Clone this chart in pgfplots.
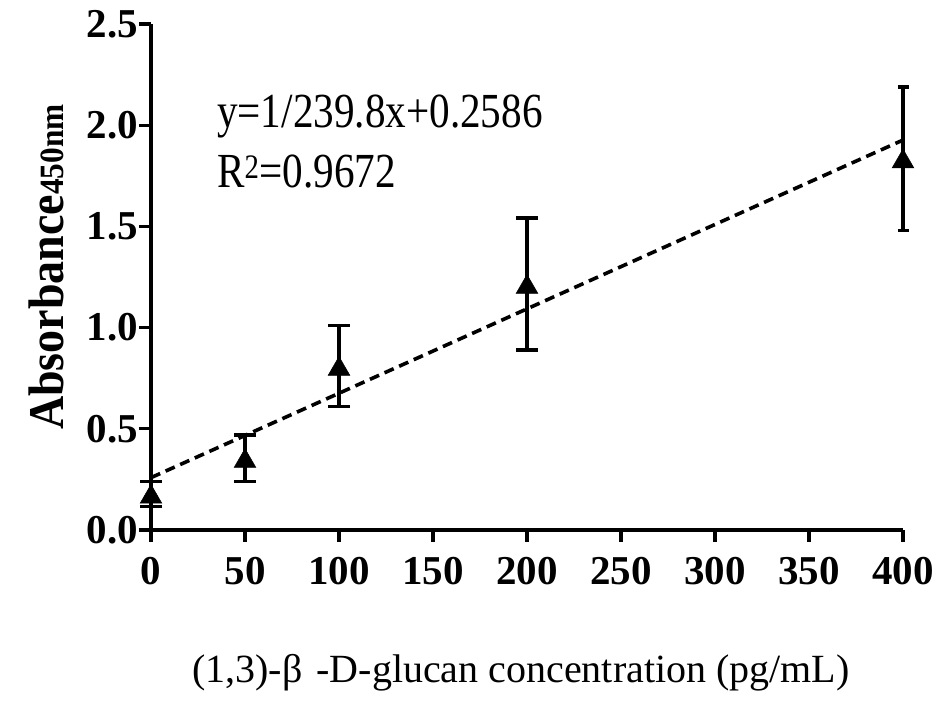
\documentclass[border=0pt]{standalone}
\usepackage{fontspec}
\setmainfont{Liberation Serif}
\usepackage{graphicx}
\usepackage{pgfplots}
\pgfplotsset{compat=1.18}
\begin{document}
\begin{tikzpicture}[x=1pt,y=1pt]
\useasboundingbox (0,0) rectangle (950,711);
\begin{axis}[
  at={(151pt,181pt)}, anchor=south west,
  scale only axis, width=752pt, height=506pt,
  xmin=0, xmax=400, ymin=0, ymax=2.5,
  axis x line*=bottom, axis y line*=left,
  axis line style={line width=3.6pt, -},
  xtick={0,50,...,400}, ytick={0,0.5,1,1.5,2,2.5},
  tick align=outside, major tick length=12pt,
  tick style={line width=3.2pt, black},
  /pgf/number format/assume math mode=true,
  xticklabel style={font=\fontsize{41}{41}\selectfont\bfseries, inner sep=1pt, yshift=-14pt},
  yticklabel style={font=\fontsize{41}{41}\selectfont\bfseries, inner sep=1pt},
  yticklabel={\pgfmathprintnumber[fixed,fixed zerofill,precision=1]{\tick}},
  clip=false,
]
\addplot[black, line width=3.6pt, dash pattern=on 10pt off 6pt] coordinates {(0,0.2586) (400,1.9266)};
\addplot[only marks, black, mark=triangle*, mark size=12.5pt, mark options={line width=0.5pt, yshift=-3pt},
  error bars/.cd, y dir=both, y explicit,
  error bar style={line width=3.6pt, black},
  error mark options={rotate=90, mark size=11pt, line width=3.6pt, black}]
  table[x=x, y=y, y error=e] {
x y e
0 0.178 0.062
50 0.355 0.115
100 0.81 0.20
200 1.215 0.325
};
\addplot[only marks, black, mark=triangle*, mark size=12.5pt, mark options={line width=0.5pt, yshift=-3pt},
  error bars/.cd, y dir=both, y explicit,
  error bar style={line width=3.6pt, black},
  error mark options={xshift=-5.5pt, rotate=90, mark size=5.5pt, line width=3.6pt, black}]
  table[x=x, y=y, y error=e] {
x y e
400 1.835 0.355
};
\end{axis}
\node[anchor=base west, inner sep=0pt] at (217,583) {\scalebox{0.84}[1]{\fontsize{49}{49}\selectfont y=1/239.8x+0.2586}};
\node[anchor=base west, inner sep=0pt] at (217,523) {\scalebox{0.84}[1]{\fontsize{49}{49}\selectfont R\textsuperscript{2}=0.9672}};
\node[anchor=base west, inner sep=0pt] at (192,28) {\fontsize{40}{40}\selectfont (1,3)-β\hspace{0.35em}-D-glucan concentration (pg/mL)};
\node[anchor=base west, rotate=90, inner sep=0pt] at (63,281) {\scalebox{0.92}[1]{\fontsize{50}{50}\selectfont\bfseries Absorbance{\fontsize{34}{34}\selectfont 450nm}}};
\end{tikzpicture}
\end{document}
